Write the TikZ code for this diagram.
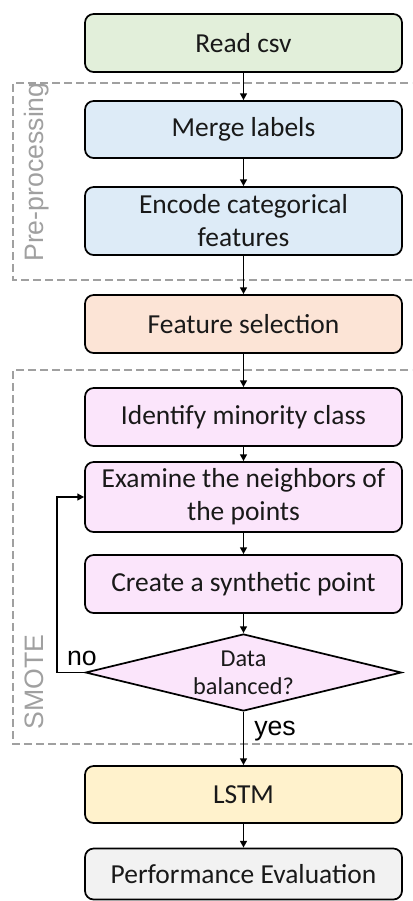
\documentclass[tikz,border=0pt]{standalone}
\usepackage{fontspec}
\usepackage{tikz}
\usetikzlibrary{arrows.meta, positioning, shapes.geometric}

\setmainfont{Liberation Sans}
\newfontfamily\boxfamily{Carlito}
\newcommand{\procfont}{\boxfamily\fontsize{20.6}{24.75}\selectfont}
\newcommand{\decfont}{\boxfamily\fontsize{18.2}{21}\selectfont}
\newcommand{\grpfont}{\fontsize{20}{22}\selectfont}

\definecolor{readgreen}{HTML}{E2EFDA}
\definecolor{prepblue}{HTML}{DDEBF7}
\definecolor{featpeach}{HTML}{FCE4D6}
\definecolor{smotepink}{HTML}{FBE5FB}
\definecolor{lstmyellow}{HTML}{FFF2CC}
\definecolor{evalgray}{HTML}{F2F2F2}
\definecolor{groupgray}{HTML}{A0A0A0}

\begin{document}
\begin{tikzpicture}[
  x=0.75pt,y=-0.75pt,
  proc/.style={draw, rounded corners=6.5pt, line width=1.3pt, minimum width=237.75pt, minimum height=43.5pt, align=center, font=\procfont, text=black!90},
  decision/.style={draw, diamond, aspect=4.1, inner sep=0pt, line width=1.3pt, minimum width=237pt, minimum height=57.75pt, align=center, font=\decfont, text=black!90},
  group/.style={draw=groupgray, line width=1.8pt, dash pattern=on 6pt off 3pt},
  grouplabel/.style={font=\grpfont, text=groupgray, rotate=90, anchor=base},
  flow/.style={-{Triangle[length=5pt,width=5pt]}, line width=1.3pt}
]
\clip (0,0) rectangle (412,901);

% dashed groups
\draw[group] (420,83) -- (13,83) -- (13,280) -- (420,280);
\draw[group] (420,370) -- (13,370) -- (13,744) -- (420,744);
\node[grouplabel] (prelbl) at (43,172) {Pre-processing};
\node[grouplabel] (smotelbl) at (43,682) {SMOTE};

% steps
\node[proc, fill=readgreen] (read) at (243.5,43) {Read csv};
\node[proc, fill=prepblue, minimum height=42.75pt] (merge) at (243.5,129.5) {Merge labels};
\node[proc, fill=prepblue, minimum height=51pt] (encode) at (243.5,221) {Encode categorical\\features};
\node[proc, fill=featpeach] (featsel) at (243.5,324) {Feature selection};
\node[proc, fill=smotepink] (minority) at (243.5,417) {Identify minority class};
\node[proc, fill=smotepink, minimum height=52.5pt] (neigh) at (243.5,497) {Examine the neighbors of\\the points};
\node[proc, fill=smotepink] (synth) at (243.5,584) {Create a synthetic point};
\node[decision, fill=smotepink] (balanced) at (243.5,672.5) {Data\\balanced?};
\node[proc, fill=lstmyellow, minimum height=42.75pt] (lstm) at (243.5,794.5) {LSTM};
\node[proc, fill=evalgray, minimum height=38.25pt] (perf) at (243.5,874) {Performance Evaluation};

% connectors
\draw[flow] (read) -- (merge);
\draw[flow] (merge) -- (encode);
\draw[flow] (encode) -- (featsel);
\draw[flow] (featsel) -- (minority);
\draw[flow] (minority) -- (neigh);
\draw[flow] (neigh) -- (synth);
\draw[flow] (synth) -- (balanced);
\coordinate (loop) at (57,672.5);
\draw[flow] (balanced.west) -- (loop) |- (neigh.west);
\draw[flow] (balanced) -- (lstm);
\draw[flow] (lstm) -- (perf);

\node[font=\grpfont, anchor=base] (nolbl) at (82,665) {no};
\node[font=\grpfont, anchor=base] (yeslbl) at (275,735) {yes};

\end{tikzpicture}
\end{document}
